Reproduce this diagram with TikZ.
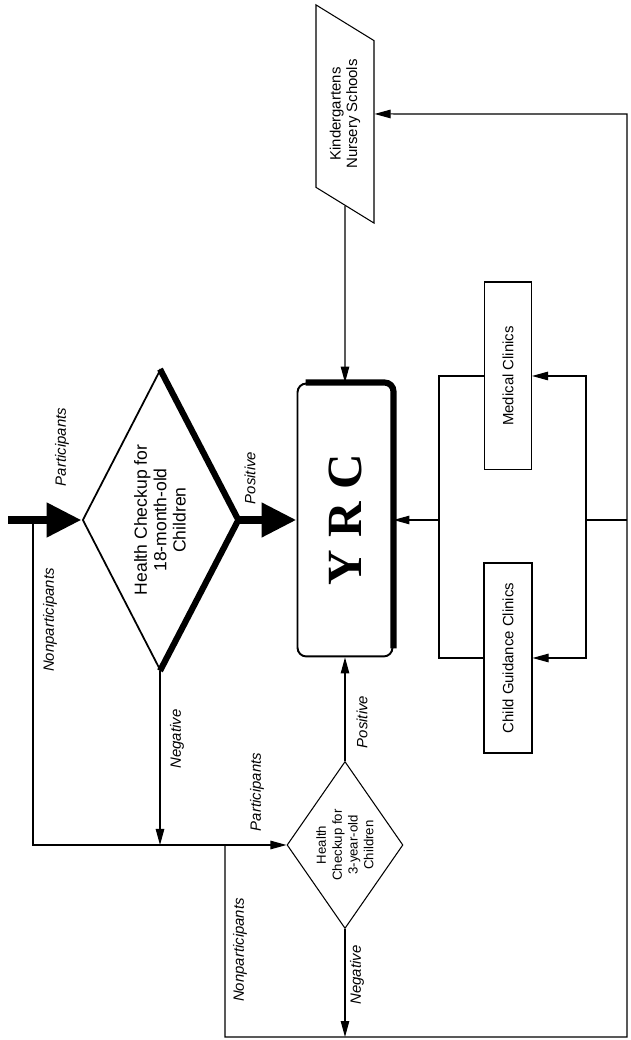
\documentclass[tikz,border=0pt]{standalone}
\usepackage{fontspec}
\setmainfont{Liberation Sans}
\newfontfamily\yrcfont{Liberation Serif}
\usepackage{tikz}
\usetikzlibrary{shapes.geometric, arrows.meta, calc}

\begin{document}
\begin{tikzpicture}[
    x=0.02cm, y=0.02cm, rotate=90, transform shape,
    box/.style={rectangle, draw, line width=0.6pt, align=center,
                font=\fontsize{8.5}{9.5}\selectfont, inner sep=2pt},
    decision/.style={diamond, draw, align=center, inner sep=0pt},
    lbl/.style={font=\fontsize{8.5}{10}\selectfont\itshape, inner sep=1pt},
    arrow/.style={-{Triangle[length=3.2mm,width=1.7mm]}, line width=0.6pt},
    bigarrow/.style={-{Triangle[length=7mm,width=6.5mm]}, line width=5pt},
    heavy/.style={line width=3.5pt}
  ]
    \useasboundingbox (0,0) rectangle (1040,-630);

    \node[decision, line width=1pt, aspect=1.94, minimum width=6cm, minimum height=3.1cm,
          font=\fontsize{10}{11}\selectfont] at (520,-160) (d18)
      {Health Checkup for\\18-month-old\\Children};
    \node[draw, line width=1.1pt, rounded corners=5pt, minimum width=5.46cm, minimum height=1.9cm,
          font=\fontsize{28}{30}\selectfont\yrcfont\bfseries] at (520,-345) (yrc) {Y R C};
    \node[decision, line width=0.6pt, aspect=1.44, minimum width=3.34cm, minimum height=2.32cm,
          font=\fontsize{7.5}{9}\selectfont] at (195,-345) (d3)
      {Health\\Checkup for\\3-year-old\\Children};
    \node[box, trapezium, trapezium left angle=53, trapezium right angle=127,
          trapezium stretches=true, minimum width=4.38cm, minimum height=1.16cm]
      at (926,-345) (kg) {Kindergartens\\Nursery Schools};
    \node[box, minimum width=3.76cm, minimum height=0.94cm] at (664,-508) (med) {Medical Clinics};
    \node[box, minimum width=3.8cm, minimum height=0.96cm] at (382,-508) (cgc) {Child Guidance Clinics};

    \draw[heavy] (d18.east) -- (d18.south) -- (d18.west);
    \draw[heavy, rounded corners=5pt] ($(yrc.south west)+(9,0)$) -- (yrc.south east)
      -- ($(yrc.north east)+(0,-9)$);

    \coordinate (in18) at (520,-8);
    \coordinate (np1) at (520,-33);
    \coordinate (c1) at (195,-33);
    \coordinate (j1) at (195,-160);
    \coordinate (np2) at (195,-225);
    \coordinate (c2) at (3,-225);
    \coordinate (c3) at (3,-627);
    \coordinate (c4) at (926,-627);
    \coordinate (j2) at (3,-345);
    \coordinate (cl0) at (520,-627);
    \coordinate (cl1) at (520,-586);
    \coordinate (c6) at (664,-586);
    \coordinate (c7) at (382,-586);
    \coordinate (c8) at (664,-439);
    \coordinate (c9) at (382,-439);
    \coordinate (cl2) at (520,-439);

    \draw[bigarrow] (in18) -- (d18.north);
    \draw[arrow] (np1) -- (c1) -- (d3.north);
    \draw[arrow] (d18.west) -- (j1);
    \draw[bigarrow] (d18.south) -- (yrc.north);
    \draw[arrow] (d3.east) -- (yrc.west);
    \draw[arrow] (d3.west) -- (j2);
    \draw[arrow] (np2) -- (c2) -- (c3) -- (c4) -- (kg.south);
    \draw[arrow] (kg.west) -- (yrc.east);
    \draw[arrow] (cl0) -- (cl1) -- (c6) -- (med.south);
    \draw[arrow] (cl1) -- (c7) -- (cgc.south);
    \draw[line width=0.6pt] (med.north) -- (c8) -- (c9) -- (cgc.north);
    \draw[arrow] (cl2) -- (yrc.south);

    \node[lbl] at (593,-62) (lpart1) {Participants};
    \node[lbl] at (420,-50) (lnon1) {Nonparticipants};
    \node[lbl] at (562,-250) (lpos1) {Positive};
    \node[lbl] at (301,-177) (lneg1) {Negative};
    \node[lbl] at (248,-257) (lpart2) {Participants};
    \node[lbl] at (90,-240) (lnon2) {Nonparticipants};
    \node[lbl] at (65,-357) (lneg2) {Negative};
    \node[lbl] at (318,-362) (lpos2) {Positive};
  \end{tikzpicture}
\end{document}
